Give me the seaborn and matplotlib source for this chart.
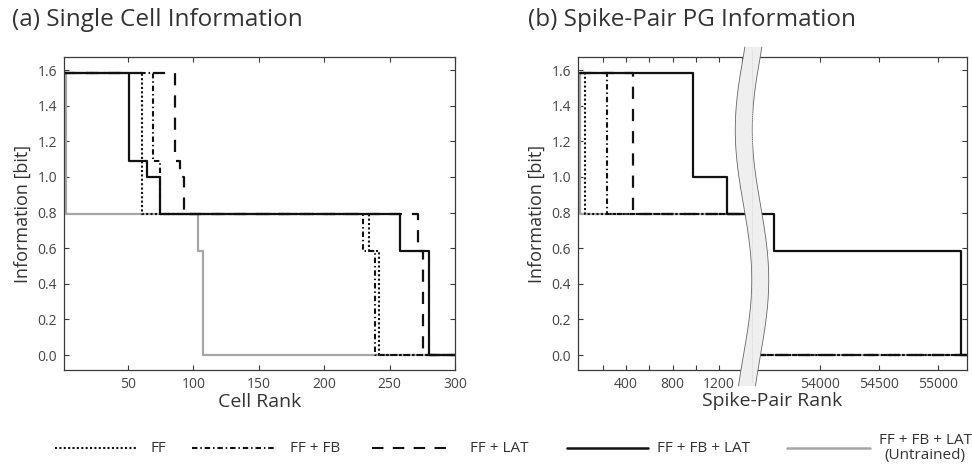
import numpy as np
import pandas as pd
import matplotlib
matplotlib.use("Agg")
import matplotlib.pyplot as plt
from matplotlib.lines import Line2D
from matplotlib.patches import Polygon
import seaborn as sns

sns.set_theme(style="white")
plt.rcParams['font.family'] = ['Open Sans', 'DejaVu Sans']

# ---------------- data (step functions: rank where value changes, value) -------------
# Panel (a): Single cell information vs cell rank
a_ff_x = [1, 61, 234, 242, 300]
a_ff_y = [1.585, 0.79, 0.585, 0.0, 0.0]
a_fffb_x = [1, 69, 74.4, 229.6, 238.5, 300]
a_fffb_y = [1.585, 1.09, 0.79, 0.585, 0.0, 0.0]
a_fflat_x = [1, 86, 89.5, 92.7, 271.6, 275.4, 300]
a_fflat_y = [1.585, 1.09, 1.0, 0.79, 0.585, 0.0, 0.0]
a_all_x = [1, 51, 64.3, 74.4, 257.6, 279.8, 300]
a_all_y = [1.585, 1.09, 1.0, 0.79, 0.585, 0.0, 0.0]
a_untr_x = [1, 2.7, 103.7, 107.5, 300]
a_untr_y = [1.585, 0.79, 0.585, 0.0, 0.0]

# Panel (b): spike-pair PG information vs rank (broken axis)
b1_ff_x = [0, 47, 1501]
b1_ff_y = [1.585, 0.79, 0.79]
b1_fffb_x = [0, 239, 1501]
b1_fffb_y = [1.585, 0.79, 0.79]
b1_fflat_x = [0, 463, 1501]
b1_fflat_y = [1.585, 0.79, 0.79]
b1_all_x = [0, 974, 1271, 1501]
b1_all_y = [1.585, 1.0, 0.79, 0.79]
b1_untr_x = [0, 5, 1501]
b1_untr_y = [1.585, 0.79, 0.79]

b2_ff_x = [53441, 55246]
b2_ff_y = [0.0, 0.0]
b2_fffb_x = [53441, 55246]
b2_fffb_y = [0.0, 0.0]
b2_fflat_x = [53441, 55246]
b2_fflat_y = [0.0, 0.0]
b2_all_x = [53441, 53610, 55195, 55246]
b2_all_y = [0.79, 0.585, 0.0, 0.0]
b2_untr_x = [53441, 55246]
b2_untr_y = [0.0, 0.0]

labels = ["FF", "FF + FB", "FF + LAT", "FF + FB + LAT", "FF + FB + LAT\n(Untrained)"]
yticks = [0.0, 0.2, 0.4, 0.6, 0.8, 1.0, 1.2, 1.4, 1.6]
a_xticks = [50, 100, 150, 200, 250, 300]
b1_xticks = [400, 800, 1200]
b1_xminor = [200, 600, 1000, 1400]
b2_xticks = [54000, 54500, 55000]

# ---------------- styles ----------------
BLACK = "#111111"
GRAY = "#a6a6a6"
styles = [
    dict(color=BLACK, linestyle=(0, (1.0, 1.1)), lw=1.5),
    dict(color=BLACK, linestyle=(0, (2.6, 1.4, 0.7, 1.4)), lw=1.5),
    dict(color=BLACK, linestyle=(0, (5.5, 4.5)), lw=1.6),
    dict(color=BLACK, linestyle="-", lw=1.6),
    dict(color=GRAY, linestyle="-", lw=1.6),
]
TXT = "#333333"
TICK = "#444444"
SPINE = "#3a3a3a"

W, H = 972, 467
fig = plt.figure(figsize=(W / 100, H / 100), dpi=100)
fig.patch.set_facecolor("white")

bottom = (H - 370) / H
height = 313 / H
ax_a = fig.add_axes([64 / W, bottom, 391 / W, height])
ax_b1 = fig.add_axes([578 / W, bottom, (754 - 578) / W, height])
ax_b2 = fig.add_axes([754 / W, bottom, (967 - 754) / W, height])


def draw(ax, series):
    # draw untrained first, then others, solid last
    order = [4, 0, 1, 2, 3]
    for i in order:
        x, y = series[i]
        sns.lineplot(x=x, y=y, ax=ax, drawstyle="steps-post", sort=False,
                     estimator=None, **styles[i])


draw(ax_a, [(a_ff_x, a_ff_y), (a_fffb_x, a_fffb_y), (a_fflat_x, a_fflat_y),
            (a_all_x, a_all_y), (a_untr_x, a_untr_y)])
draw(ax_b1, [(b1_ff_x, b1_ff_y), (b1_fffb_x, b1_fffb_y), (b1_fflat_x, b1_fflat_y),
             (b1_all_x, b1_all_y), (b1_untr_x, b1_untr_y)])
draw(ax_b2, [(b2_ff_x, b2_ff_y), (b2_fffb_x, b2_fffb_y), (b2_fflat_x, b2_fflat_y),
             (b2_all_x, b2_all_y), (b2_untr_x, b2_untr_y)])

YLIM = (-0.084, 1.673)
for ax in (ax_a, ax_b1, ax_b2):
    ax.set_ylim(*YLIM)
    ax.set_xlabel("")
    ax.set_ylabel("")
    ax.set_facecolor("white")
    for s in ax.spines.values():
        s.set_color(SPINE)
        s.set_linewidth(0.9)
    ax.tick_params(axis="both", which="both", direction="in", length=3.5, width=0.8,
                   color=SPINE, labelcolor=TICK, labelsize=10, pad=5)
    ax.set_yticks(yticks)

ax_a.set_xlim(1, 300)
ax_a.set_xticks(a_xticks)
ax_a.set_yticklabels([f"{v:.1f}" for v in yticks])
ax_a.tick_params(top=True, right=True, left=True, bottom=True)

ax_b1.set_xlim(-13, 1501)
ax_b1.set_xticks(b1_xticks)
ax_b1.set_xticks(b1_xminor, minor=True)
ax_b1.set_yticklabels([f"{v:.1f}" for v in yticks])
ax_b1.spines["right"].set_visible(False)
ax_b1.tick_params(top=True, right=False, left=True, bottom=True)
ax_b1.tick_params(which="minor", top=True, bottom=True, length=3.5)

ax_b2.set_xlim(53441, 55246)
ax_b2.set_xticks(b2_xticks)
ax_b2.spines["left"].set_visible(False)
ax_b2.tick_params(top=True, right=True, left=False, bottom=True, labelleft=False)

ax_a.set_xlabel("Cell Rank", fontsize=14, color=TXT, labelpad=1)
ax_a.set_ylabel("Information [bit]", fontsize=13, color=TXT, labelpad=4)
ax_b1.set_ylabel("Information [bit]", fontsize=13, color=TXT, labelpad=4)
fig.text(772 / W, 1 - 401 / H, "Spike-Pair Rank", ha="center", va="center",
         fontsize=14, color=TXT)

fig.text(12 / W, 1 - 20 / H, "(a) Single Cell Information", ha="left", va="center",
         fontsize=17.5, color=TXT)
fig.text(528 / W, 1 - 20 / H, "(b) Spike-Pair PG Information", ha="left", va="center",
         fontsize=17.5, color=TXT)

# ---------------- axis-break band (wavy) ----------------
yy = np.linspace(47, 386, 200)
xc = 752 - 8.25 * np.cos(2 * np.pi * (yy - 130) / 300)
hw = 8.5
left_edge = np.column_stack([(xc - hw) / W, 1 - yy / H])
right_edge = np.column_stack([(xc + hw) / W, 1 - yy / H])
poly = np.vstack([left_edge, right_edge[::-1]])
fig.add_artist(Polygon(poly, closed=True, transform=fig.transFigure,
                       facecolor="#efefef", edgecolor="none", zorder=10))
for edge in (left_edge, right_edge):
    fig.add_artist(Line2D(edge[:, 0], edge[:, 1], transform=fig.transFigure,
                          color="#666666", lw=0.6, zorder=11))
fig.add_artist(Line2D([752 / W, 752 / W], [1 - 50 / H, 1 - 383 / H],
                      transform=fig.transFigure, color="#cccccc", lw=0.6,
                      linestyle=(0, (1, 1.5)), zorder=11))

# ---------------- legend (manual, figure coords) ----------------
ly = 1 - 448 / H
handle_x = [(55, 137), (192, 275), (372, 455), (567, 648), (787, 870)]
text_x = [150, 290, 470, 657, 878]
for i, ((x0, x1), tx) in enumerate(zip(handle_x, text_x)):
    st = dict(styles[i])
    st["lw"] = 1.5 if i < 3 else 1.8
    fig.add_artist(Line2D([x0 / W, x1 / W], [ly, ly], transform=fig.transFigure, **st))
    if i < 4:
        fig.text(tx / W, ly, labels[i], ha="left", va="center", fontsize=11, color=TXT)
    else:
        fig.text(925 / W, ly, labels[i], ha="center", va="center", fontsize=11,
                 color=TXT, multialignment="center", linespacing=1.05)

fig.savefig("out.png", dpi=100, facecolor="white")
